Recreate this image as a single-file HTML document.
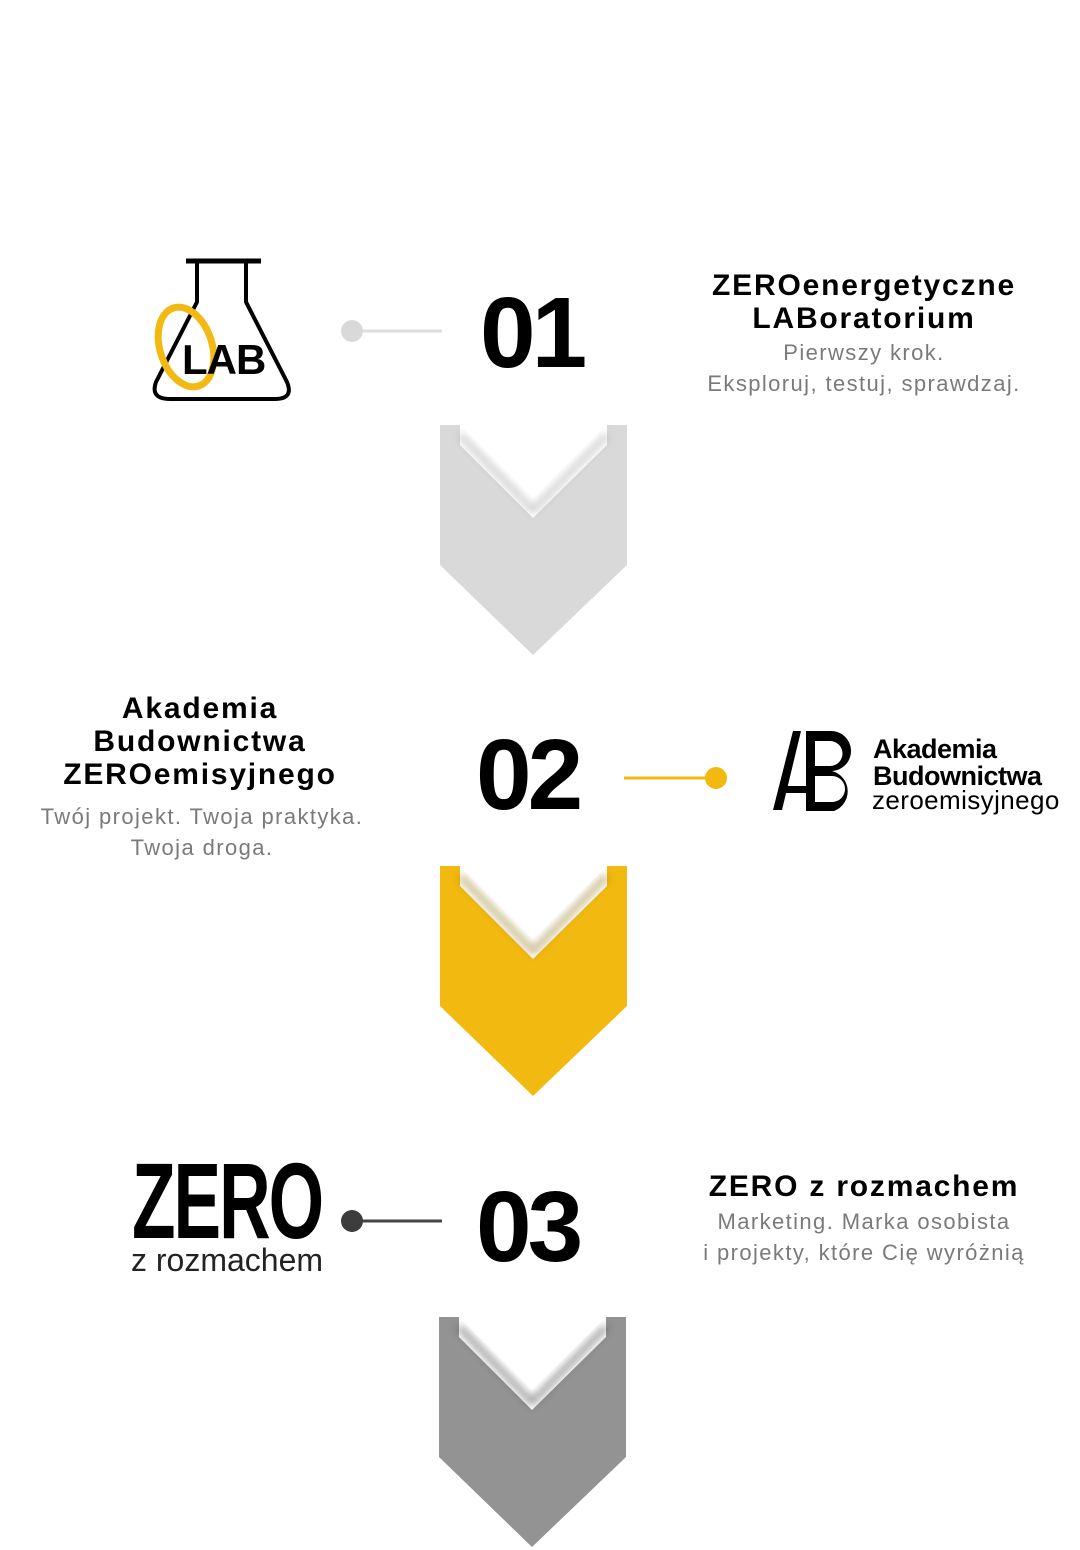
<!DOCTYPE html>
<html><head><meta charset="utf-8"><style>
body{margin:0;width:1080px;height:1550px;background:#fff;position:relative;overflow:hidden;font-family:"Liberation Sans",sans-serif}
.a{position:absolute}
.num{font-weight:bold;font-size:100px;line-height:100px;color:#000;letter-spacing:-4px}
.t{font-weight:bold;font-size:30px;line-height:33px;color:#000;text-align:center;letter-spacing:1.8px}
.s{font-size:22px;line-height:31px;color:#7a7a7a;text-align:center;letter-spacing:1.4px}
</style></head><body>
<svg class="a" style="left:0;top:0" width="1080" height="1550">
<defs>
<filter id="sh" x="-20%" y="-20%" width="140%" height="140%"><feGaussianBlur stdDeviation="4"/></filter>
</defs>
<g transform="translate(440,425)">
<polygon points="0,0 20,0 20,20 93,93 167,20 167,0 187,0 187,140 93,230 0,140" fill="#d9d9d9"/>
<polyline points="20,10 93,85 167,10" fill="none" stroke="#999" stroke-width="6" filter="url(#sh)" opacity=".5"/>
<polygon points="20,0 93,73 167,0 167,-5 20,-5" fill="#fff"/>
</g>
<g transform="translate(440,866)">
<polygon points="0,0 20,0 20,20 93,93 167,20 167,0 187,0 187,140 93,230 0,140" fill="#f2b911"/>
<polyline points="20,10 93,85 167,10" fill="none" stroke="#8a6a00" stroke-width="6" filter="url(#sh)" opacity=".5"/>
<polygon points="20,0 93,73 167,0 167,-5 20,-5" fill="#fff"/>
</g>
<g transform="translate(439,1317)">
<polygon points="0,0 20,0 20,20 93,93 167,20 167,0 187,0 187,140 93,230 0,140" fill="#939393"/>
<polyline points="20,10 93,85 167,10" fill="none" stroke="#333" stroke-width="6" filter="url(#sh)" opacity=".5"/>
<polygon points="20,0 93,73 167,0 167,-5 20,-5" fill="#fff"/>
</g>
<line x1="352" y1="331" x2="442" y2="331" stroke="#ddd" stroke-width="3"/>
<circle cx="352" cy="331" r="11" fill="#d9d9d9"/>
<line x1="624" y1="778" x2="716" y2="778" stroke="#f2b911" stroke-width="3"/>
<circle cx="716" cy="778" r="11" fill="#f2b911"/>
<line x1="352" y1="1221" x2="442" y2="1221" stroke="#444" stroke-width="3"/>
<circle cx="352" cy="1221" r="11" fill="#3d3d3d"/>
<g fill="none" stroke="#000" stroke-width="4" stroke-linejoin="round">
<line x1="186" y1="261" x2="261" y2="261" stroke-width="5"/>
<path d="M197,261 V302 L156,382 Q150,399 170,399 H275 Q294,399 287,382 L246,302 V261"/>
</g>
<ellipse cx="186" cy="347" rx="26" ry="41" transform="rotate(-18 186 347)" fill="none" stroke="#f2b911" stroke-width="7"/>
<text x="182" y="374" font-family="Liberation Sans" font-weight="bold" font-size="42" fill="#000" letter-spacing="-1">LAB</text>
<g fill="#000">
<polygon points="793,731 801,731 782,810 773,810"/>
<rect x="806" y="731" width="9" height="80"/>
<rect x="786" y="786" width="22" height="7"/>
<path d="M815,731 H830 A20,20 0 0 1 832,771 A21,21 0 0 1 834,811 H815 V802 H832 A13,13 0 0 0 832,776 H815 V766 H830 A12.5,12.5 0 0 0 830,741 H815 Z"/>
</g>
</svg>
<div class="a num" style="left:480px;top:283px">01</div>
<div class="a num" style="left:476px;top:725px">02</div>
<div class="a num" style="left:476px;top:1177px">03</div>

<div class="a t" style="left:664px;top:269px;width:400px">ZEROenergetyczne<br>LABoratorium</div>
<div class="a s" style="left:664px;top:337px;width:400px">Pierwszy krok.<br>Eksploruj, testuj, sprawdzaj.</div>

<div class="a t" style="left:0;top:692px;width:400px">Akademia<br>Budownictwa<br>ZEROemisyjnego</div>
<div class="a s" style="left:2px;top:801px;width:400px">Twój projekt. Twoja praktyka.<br>Twoja droga.</div>

<div class="a" style="left:873px;top:736px;font-weight:bold;font-size:27px;line-height:27px;letter-spacing:-0.5px">Akademia<br>Budownictwa</div>
<div class="a" style="left:872px;top:786px;font-size:26px;line-height:28px;letter-spacing:0.4px">zeroemisyjnego</div>

<div class="a" style="left:132px;top:1147px;font-weight:bold;font-size:108px;line-height:108px;transform:scaleX(0.66);transform-origin:0 0;letter-spacing:-3px">ZERO</div>
<div class="a" style="left:131px;top:1242px;font-size:32px;line-height:36px;color:#222">z rozmachem</div>

<div class="a t" style="left:664px;top:1170px;width:400px">ZERO z rozmachem</div>
<div class="a s" style="left:664px;top:1206px;width:400px">Marketing. Marka osobista<br>i projekty, które Cię wyróżnią</div>
</body></html>
